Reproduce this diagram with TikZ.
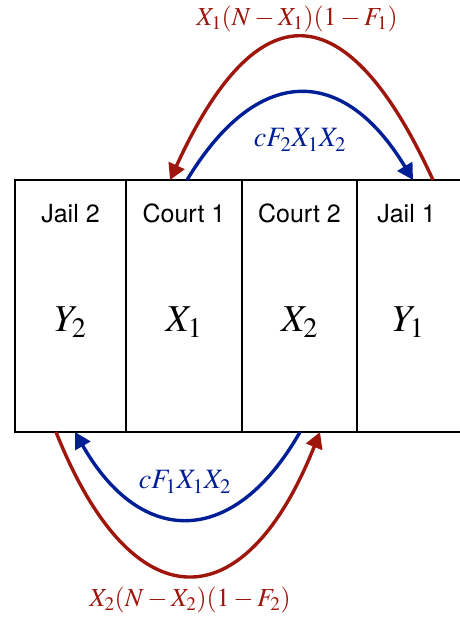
\documentclass[tikz,border=0pt]{standalone}
\usepackage{mathptmx}
\usepackage{fontspec}
\setsansfont{TeX Gyre Heros}
\usetikzlibrary{arrows.meta,positioning}

\definecolor{flowred}{RGB}{158,22,12}
\definecolor{flowblue}{RGB}{0,30,150}

\tikzset{
  cell/.style={draw, line width=2.8pt, outer sep=0pt, minimum height=252pt},
  celltitle/.style={anchor=base, font=\sffamily\fontsize{25}{30}\selectfont},
  cellvalue/.style={anchor=base, font=\fontsize{38}{44}\selectfont},
  ratelbl/.style={font=\fontsize{26}{30}\selectfont},
  flow/.style={line width=3.4pt, -{Triangle[length=16pt,width=17pt]}},
}

\begin{document}
\begin{tikzpicture}[x=1pt, y=1pt, every node/.style={inner sep=0pt}]

  \useasboundingbox (0,0) rectangle (459,618);

  %% Compartments
  \node[cell, minimum width=111pt] (jailtwo) at (70.5,312) {};
  \node[cell, minimum width=116pt, right=0pt of jailtwo] (courtone) {};
  \node[cell, minimum width=115pt, right=0pt of courtone] (courttwo) {};
  \node[cell, minimum width=115pt, right=0pt of courttwo] (jailone) {};

  % titles and populations
  \node[celltitle] (jailtwot) at ([yshift=-43pt]jailtwo.north) {Jail 2};
  \node[celltitle] (courtonet) at ([yshift=-43pt]courtone.north) {Court 1};
  \node[celltitle] (courttwot) at ([yshift=-43pt]courttwo.north) {Court 2};
  \node[celltitle] (jailonet) at ([xshift=-8pt,yshift=-43pt]jailone.north) {Jail 1};

  \node[cellvalue] (ytwo) at ([yshift=-26pt]jailtwo.center) {$Y_2$};
  \node[cellvalue] (xone) at ([yshift=-26pt]courtone.center) {$X_1$};
  \node[cellvalue] (xtwo) at ([yshift=-26pt]courttwo.center) {$X_2$};
  \node[cellvalue] (yone) at ([xshift=-6pt,yshift=-26pt]jailone.center) {$Y_1$};

  %% Top: flows between Court 1 and Jail 1
  \coordinate (redtopa) at ([xshift=76pt]jailone.north west);
  \coordinate (redtopb) at ([xshift=44pt]courtone.north west);
  \coordinate (bluetopa) at ([xshift=61pt]courtone.north west);
  \coordinate (bluetopb) at ([xshift=56pt]jailone.north west);

  \draw[flow, flowred] (redtopa) .. controls +(-87,190) and +(87,190) .. (redtopb);
  \draw[flow, flowblue] (bluetopa) .. controls +(70,116) and +(-70,116) .. (bluetopb);

  \node[ratelbl, text=flowred] (ratetopred) at (297,599) {$X_1(N-X_1)(1-F_1)$};
  \node[ratelbl, font=\fontsize{28}{32}\selectfont, text=flowblue] (ratetopblue) at (300,478) {$cF_2X_1X_2$};

  %% Bottom: flows between Court 2 and Jail 2
  \coordinate (redbota) at ([xshift=41pt]jailtwo.south west);
  \coordinate (redbotb) at ([xshift=78pt]courttwo.south west);
  \coordinate (bluebota) at ([xshift=58pt]courttwo.south west);
  \coordinate (bluebotb) at ([xshift=60pt]jailtwo.south west);

  \draw[flow, flowred] (redbota) .. controls +(76,-191) and +(-76,-191) .. (redbotb);
  \draw[flow, flowblue] (bluebota) .. controls +(-66,-116) and +(66,-116) .. (bluebotb);

  \node[ratelbl, font=\fontsize{28}{32}\selectfont, text=flowblue] (ratebotblue) at (185,136) {$cF_1X_1X_2$};
  \node[ratelbl, text=flowred] (ratebotred) at (190,18) {$X_2(N-X_2)(1-F_2)$};

\end{tikzpicture}
\end{document}
